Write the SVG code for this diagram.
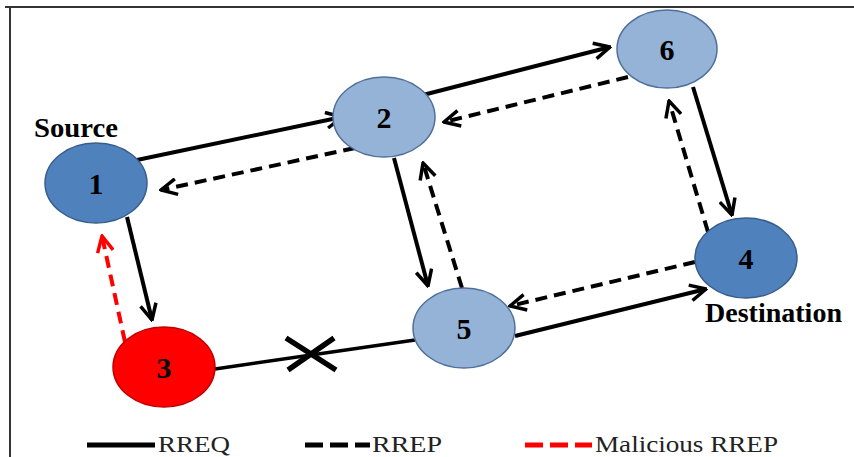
<svg xmlns="http://www.w3.org/2000/svg" width="854" height="457" viewBox="0 0 854 457">
<style>
.frame{stroke:#333;stroke-width:2;fill:none}
.solid{stroke:#000;stroke-width:4;fill:none}
.dash{stroke:#000;stroke-width:4;fill:none;stroke-dasharray:12 7}
.red{stroke:#ff0000;stroke-width:4;fill:none;stroke-dasharray:12 7}
.dark{fill:#4f81bd;stroke:#385d8a;stroke-width:1.5}
.light{fill:#95b3d7;stroke:#4f6f9c;stroke-width:1.5}
.mal{fill:#ff0000;stroke:#c00000;stroke-width:1.5}
.num{font-family:"Liberation Serif","Times New Roman",serif;font-weight:bold;font-size:30px;text-anchor:middle;fill:#000}
.lbl{font-family:"Liberation Serif","Times New Roman",serif;font-weight:bold;font-size:27px;fill:#000}
.leg{font-family:"Liberation Serif","Times New Roman",serif;font-size:24px;fill:#222}
</style>
<defs>
<marker id="ah" viewBox="0 0 12 12" refX="11" refY="6" markerWidth="19" markerHeight="19" markerUnits="userSpaceOnUse" orient="auto">
<path d="M1,1 L11,6 L1,11" fill="none" stroke="#000" stroke-width="2.2"/>
</marker>
<marker id="ahr" viewBox="0 0 12 12" refX="11" refY="6" markerWidth="19" markerHeight="19" markerUnits="userSpaceOnUse" orient="auto">
<path d="M1,1 L11,6 L1,11" fill="none" stroke="#ff0000" stroke-width="2.2"/>
</marker>
</defs>
<rect width="854" height="457" fill="#fff"/>
<path class="frame" d="M5,7 H854 M10,7 V457"/>
<g id="connectors">
<line class="solid" x1="137" y1="160" x2="342" y2="117" marker-end="url(#ah)"/>
<line class="dash" x1="355" y1="148" x2="161" y2="190" marker-end="url(#ah)"/>
<line class="solid" x1="423" y1="95" x2="610" y2="47" marker-end="url(#ah)"/>
<line class="dash" x1="628" y1="77" x2="444" y2="122" marker-end="url(#ah)"/>
<line class="solid" x1="693" y1="87" x2="732" y2="215" marker-end="url(#ah)"/>
<line class="dash" x1="708" y1="232" x2="669" y2="101" marker-end="url(#ah)"/>
<line class="solid" x1="394" y1="158" x2="428" y2="286" marker-end="url(#ah)"/>
<line class="dash" x1="462" y1="288" x2="423" y2="163" marker-end="url(#ah)"/>
<line class="dash" x1="695" y1="262" x2="510" y2="306" marker-end="url(#ah)"/>
<line class="solid" x1="515" y1="336" x2="706" y2="289" marker-end="url(#ah)"/>
<line class="solid" x1="127" y1="217" x2="152" y2="320" marker-end="url(#ah)"/>
<line class="red" x1="125" y1="342" x2="102" y2="236" marker-end="url(#ahr)"/>
<line class="solid" style="stroke-width:3.5" x1="215" y1="369" x2="415" y2="340"/>
<path d="M286,338 L336,370 M334,338 L288,370" stroke="#000" stroke-width="5.5" fill="none"/>
</g>
<g id="node1"><ellipse class="dark" cx="96" cy="183" rx="51" ry="40"/><text class="num" x="96" y="194">1</text></g>
<g id="node2"><ellipse class="light" cx="384" cy="117" rx="51" ry="40"/><text class="num" x="384" y="128">2</text></g>
<g id="node3"><ellipse class="mal" cx="164" cy="367" rx="51" ry="40"/><text class="num" x="164" y="378">3</text></g>
<g id="node4"><ellipse class="dark" cx="746" cy="258" rx="51" ry="40"/><text class="num" x="746" y="269">4</text></g>
<g id="node5"><ellipse class="light" cx="464" cy="328" rx="51" ry="40"/><text class="num" x="464" y="339">5</text></g>
<g id="node6"><ellipse class="light" cx="667" cy="49" rx="50" ry="39"/><text class="num" x="667" y="60">6</text></g>
<text class="lbl" x="34" y="137" textLength="84" lengthAdjust="spacingAndGlyphs">Source</text>
<text class="lbl" x="705" y="322" textLength="137" lengthAdjust="spacingAndGlyphs">Destination</text>
<g id="legend">
<line class="solid" style="stroke-width:5" x1="87" y1="445" x2="155" y2="445"/>
<text class="leg" x="158" y="452" textLength="72" lengthAdjust="spacingAndGlyphs">RREQ</text>
<line class="dash" style="stroke-width:5;stroke-dasharray:18 7" x1="305" y1="445" x2="370" y2="445"/>
<text class="leg" x="372" y="452" textLength="70" lengthAdjust="spacingAndGlyphs">RREP</text>
<line class="red" style="stroke-width:5;stroke-dasharray:18 7" x1="525" y1="445" x2="592" y2="445"/>
<text class="leg" x="595" y="452" textLength="183" lengthAdjust="spacingAndGlyphs">Malicious RREP</text>
</g>
</svg>
